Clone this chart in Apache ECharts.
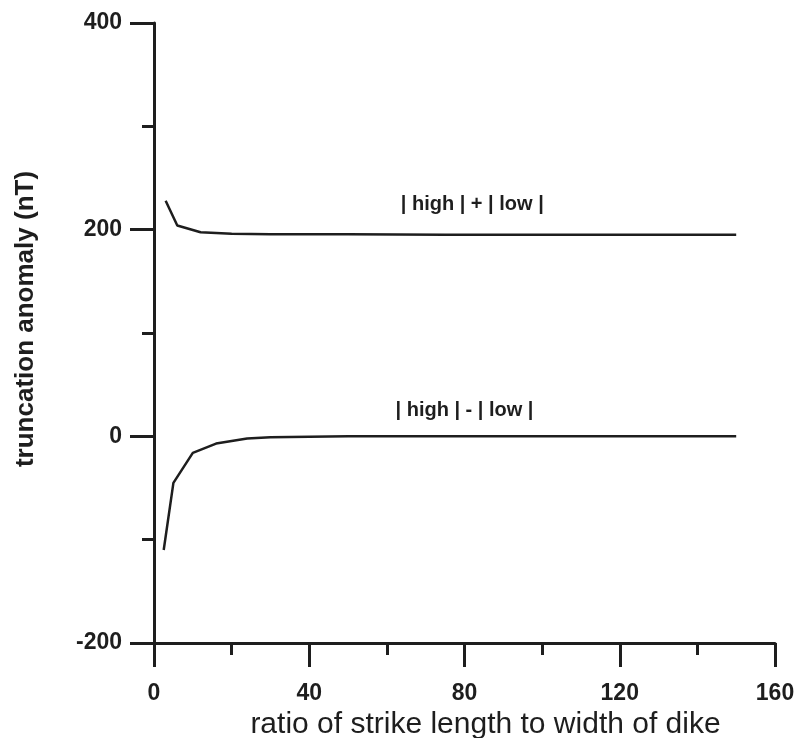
<!DOCTYPE html>
<html>
<head>
<meta charset="utf-8">
<script src="https://cdn.jsdelivr.net/npm/echarts@6/dist/echarts.min.js"></script>
<style>html,body{margin:0;padding:0;background:#fff;}#c{width:801px;height:738px;}</style>
</head>
<body>
<div id="c"></div>
<script>
var upperX = [3, 6, 12, 20, 30, 50, 75, 100, 125, 150];
var upperY = [228, 204, 197.5, 196, 195.5, 195.5, 195, 195, 195, 195];
var lowerX = [2.5, 5, 10, 16, 24, 30, 50, 75, 100, 125, 150];
var lowerY = [-110, -45, -16, -7, -2, -1, 0, 0, 0, 0, 0];
var xTicks = [0, 40, 80, 120, 160];
var yTicks = [-200, 0, 200, 400];
var labelTexts = ['| high | + | low |', '| high | - | low |'];
var labelPos = [[82, 224], [80, 25]];

function pairs(xs, ys) { return xs.map(function (x, i) { return [x, ys[i]]; }); }

var ink = '#1e1e1e';
var font = 'Liberation Sans, Arial, sans-serif';
var chart = echarts.init(document.getElementById('c'));
chart.setOption({
  animation: false,
  backgroundColor: '#fff',
  grid: { left: 154, right: 26, top: 23, bottom: 95, containLabel: false, outerBoundsMode: 'none' },
  xAxis: {
    type: 'value', min: xTicks[0], max: xTicks[xTicks.length - 1], interval: 40,
    name: 'ratio of strike length to width of dike', nameLocation: 'middle', nameGap: 64,
    nameTextStyle: { fontFamily: font, fontSize: 30, color: ink, padding: [0, 0, 0, 42] },
    axisLine: { onZero: false, lineStyle: { color: ink, width: 3 } },
    axisTick: { show: true, length: 24, lineStyle: { color: ink, width: 3 } },
    minorTick: { show: true, splitNumber: 2, length: 12, lineStyle: { color: ink, width: 3 } },
    splitLine: { show: false },
    axisLabel: { margin: 39, fontFamily: font, fontSize: 23, fontWeight: 'bold', color: ink }
  },
  yAxis: {
    type: 'value', min: yTicks[0], max: yTicks[yTicks.length - 1], interval: 200,
    name: 'truncation anomaly (nT)', nameLocation: 'middle', nameGap: 115,
    nameTextStyle: { fontFamily: font, fontSize: 26, fontWeight: 'bold', color: ink, padding: [0, 0, 0, 28] },
    axisLine: { onZero: false, lineStyle: { color: ink, width: 3 } },
    axisTick: { show: true, length: 24, lineStyle: { color: ink, width: 3 } },
    minorTick: { show: true, splitNumber: 2, length: 12, lineStyle: { color: ink, width: 3 } },
    splitLine: { show: false },
    axisLabel: { margin: 32, fontFamily: font, fontSize: 23, fontWeight: 'bold', color: ink }
  },
  series: [
    { type: 'line', data: pairs(upperX, upperY), symbol: 'none', lineStyle: { color: ink, width: 2.5 } },
    { type: 'line', data: pairs(lowerX, lowerY), symbol: 'none', lineStyle: { color: ink, width: 2.5 } },
    {
      type: 'scatter', symbolSize: 0, silent: true,
      itemStyle: { color: ink, opacity: 1 },
      data: labelPos.map(function (p, i) { return { value: p, name: labelTexts[i] }; }),
      label: { show: true, position: 'inside', formatter: function (p) { return p.name; },
        fontFamily: font, fontSize: 20, fontWeight: 'bold', color: ink, opacity: 1 }
    }
  ]
});
</script>
</body>
</html>
